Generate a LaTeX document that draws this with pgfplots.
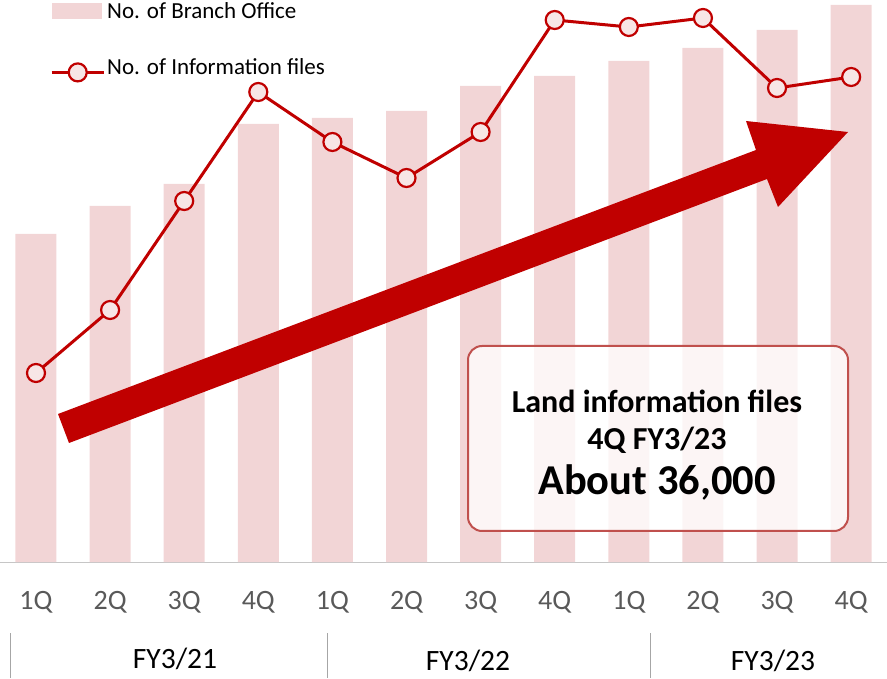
\documentclass[border=0pt]{standalone}
\usepackage{fontspec}
\setmainfont{Carlito}
\usepackage{pgfplots}
\pgfplotsset{compat=1.18}
\definecolor{barpink}{HTML}{F2D5D6}
\definecolor{dred}{HTML}{C00000}
\definecolor{boxred}{HTML}{C0504D}
\definecolor{tickgray}{HTML}{595959}
\definecolor{sepgray}{HTML}{A6A6A6}
\pgfplotsset{
  widelinelegend/.style={legend image code/.code={\draw[mark repeat=2,mark phase=2,##1] plot coordinates {(0pt,-5pt) (26pt,-5pt) (52pt,-5pt)};}},
  barlegend/.style={legend image code/.code={\fill[barpink] (0pt,-8pt) rectangle (50pt,8pt);}},
}
\begin{document}
\begin{tikzpicture}
\useasboundingbox (0pt,-116pt) rectangle (887pt,562pt);
\begin{axis}[
  at={(0pt,0pt)}, anchor=south west,
  scale only axis, width=887pt, height=562pt,
  xmin=-0.4858, xmax=11.484, ymin=0, ymax=562,
  axis y line=none, axis x line=bottom,
  x axis line style={-, draw=gray!45, line width=1pt},
  xtick={0,...,11},
  xticklabels={1Q,2Q,3Q,4Q,1Q,2Q,3Q,4Q,1Q,2Q,3Q,4Q},
  xtick style={draw=none},
  xticklabel style={font=\fontsize{28}{32}\selectfont, text=tickgray, yshift=-24pt},
  clip=false,
  legend cell align=left,
  legend style={at={(rel axis cs:0.0564,1.0)}, anchor=north west, draw=none, fill=none,
    font=\fontsize{23}{27}\selectfont, inner sep=0pt, row sep=35pt,
    /tikz/every even column/.append style={column sep=-5pt}},
]
\addplot[ybar, bar width=41pt, fill=barpink, draw=none, barlegend]
  coordinates {(0,328) (1,356) (2,378) (3,438) (4,444) (5,451) (6,476) (7,486) (8,501) (9,514) (10,532) (11,557)};
\addlegendentry{No. of Branch Office}
\addplot[dred, line width=3pt, mark=*, mark size=9pt,
  mark options={fill=barpink!60!white, draw=dred, line width=2.2pt}, widelinelegend]
  coordinates {(0,189) (1,252) (2,361) (3,470) (4,420) (5,384) (6,430) (7,542) (8,535) (9,544) (10,474) (11,485)};
\addlegendentry{No. of Information files}
\end{axis}
% big arrow (pixel coords: x, 562-y)
\fill[dred] (58pt,148pt) -- (756pt,412pt) -- (746pt,441pt) -- (848pt,430pt) -- (778pt,355pt) -- (767pt,383pt) -- (69pt,119pt) -- cycle;
% callout box
\draw[boxred, line width=2pt, fill=white, fill opacity=0.78, rounded corners=14pt] (468pt,216pt) rectangle (848pt,31pt);
\node[font=\fontsize{32}{36}\selectfont\bfseries] at (657pt,161pt) {Land information files};
\node[font=\fontsize{32}{36}\selectfont\bfseries] at (657pt,122pt) {4Q FY3/23};
\node[font=\fontsize{42.5}{48}\selectfont\bfseries] at (657pt,80pt) {About 36,000};
% group labels
\draw[sepgray, line width=1pt] (10pt,-71pt) -- (10pt,-116pt);
\draw[sepgray, line width=1pt] (327pt,-71pt) -- (327pt,-116pt);
\draw[sepgray, line width=1pt] (650pt,-71pt) -- (650pt,-116pt);
\node[font=\fontsize{29.5}{34}\selectfont] at (175pt,-97pt) {FY3/21};
\node[font=\fontsize{29.5}{34}\selectfont] at (468pt,-99pt) {FY3/22};
\node[font=\fontsize{29.5}{34}\selectfont] at (773pt,-99pt) {FY3/23};
\end{tikzpicture}
\end{document}
